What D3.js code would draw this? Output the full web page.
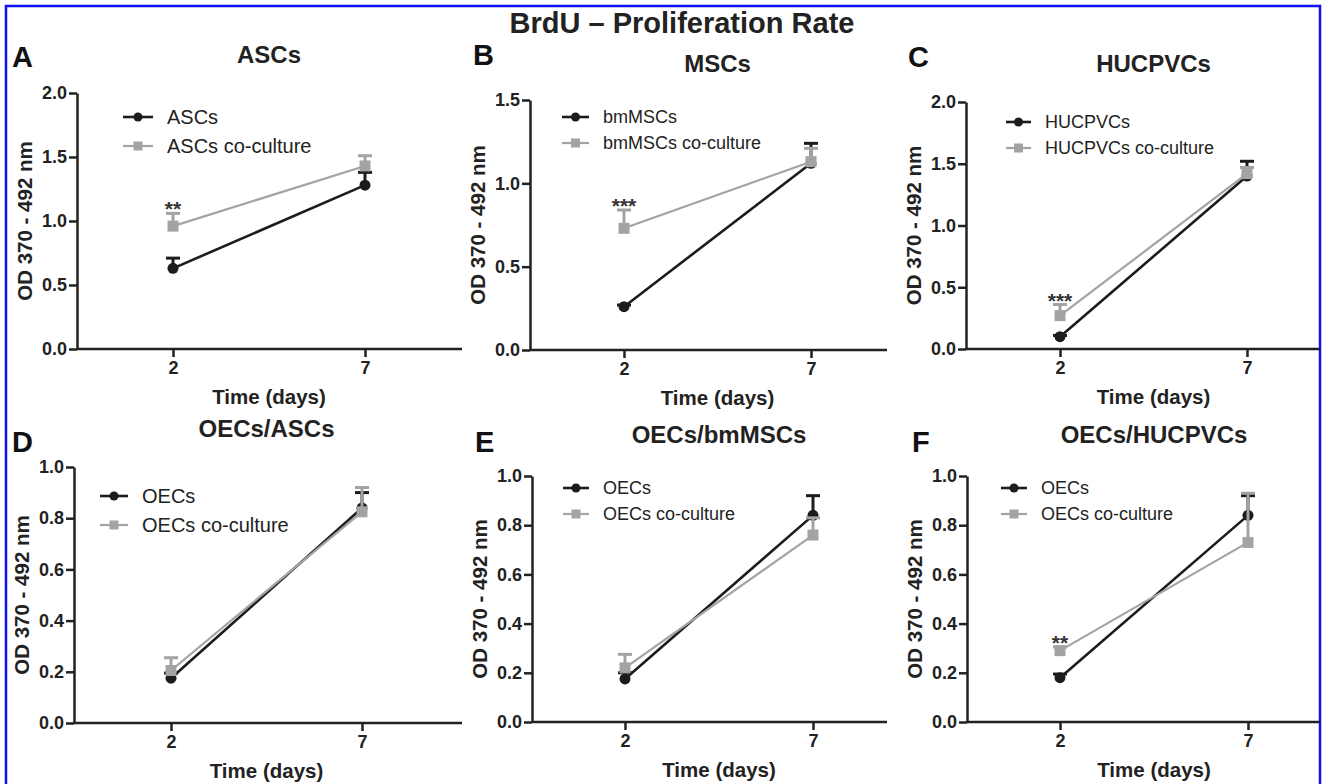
<!DOCTYPE html>
<html>
<head>
<meta charset="utf-8">
<script src="https://cdn.jsdelivr.net/npm/d3@7"></script>
<style>
  body { margin: 0; background: #fff; }
  svg { display: block; font-family: "Liberation Sans", Arial, sans-serif; }
  .tick text { font-weight: bold; font-size: 18px; fill: #222; }
  .domain, .tick line { stroke: #222; stroke-width: 2.5px; }
</style>
</head>
<body>
<svg id="chart" width="1322" height="784"></svg>
<script>
const DAYS = [2, 7];

const TITLE = "BrdU \u2013 Proliferation Rate";
const PANEL_LETTERS = ["A", "B", "C", "D", "E", "F"];
const PANEL_TITLES = ["ASCs", "MSCs", "HUCPVCs", "OECs/ASCs", "OECs/bmMSCs", "OECs/HUCPVCs"];
const SERIES_NAMES = [
  ["ASCs", "ASCs co-culture"],
  ["bmMSCs", "bmMSCs co-culture"],
  ["HUCPVCs", "HUCPVCs co-culture"],
  ["OECs", "OECs co-culture"],
  ["OECs", "OECs co-culture"],
  ["OECs", "OECs co-culture"]
];
const Y_MAX = [2.0, 1.5, 2.0, 1.0, 1.0, 1.0];
const Y_STEP = [0.5, 0.5, 0.5, 0.2, 0.2, 0.2];

// mean values (day 2, day 7) and upper SEM
const SOLO_MEAN = [
  [0.63, 1.28],
  [0.26, 1.12],
  [0.10, 1.40],
  [0.175, 0.84],
  [0.175, 0.84],
  [0.18, 0.84]
];
const SOLO_ERR = [
  [0.08, 0.10],
  [0.01, 0.12],
  [0.01, 0.12],
  [0.02, 0.06],
  [0.025, 0.08],
  [0.015, 0.08]
];
const CO_MEAN = [
  [0.96, 1.43],
  [0.73, 1.13],
  [0.27, 1.42],
  [0.205, 0.825],
  [0.22, 0.76],
  [0.29, 0.73]
];
const CO_ERR = [
  [0.10, 0.08],
  [0.11, 0.08],
  [0.09, 0.05],
  [0.05, 0.095],
  [0.055, 0.07],
  [0.015, 0.20]
];
// significance marks on co-culture day 2
const STARS = ["**", "***", "***", "", "", "**"];

// panel geometry in page pixels
const LAYOUT = [
  { ax: 77,  y0: 349, yTop: 93,  x2: 173,  x7: 365,  end: 462,  letter: [12, 67],  titleY: 63,  leg: [123, 117, 30, 20] },
  { ax: 530, y0: 350, yTop: 100, x2: 624,  x7: 811,  end: 887,  letter: [473, 65], titleY: 72,  leg: [562, 117, 27, 18] },
  { ax: 966, y0: 349, yTop: 102, x2: 1060, x7: 1247, end: 1320, letter: [908, 67], titleY: 72,  leg: [1006, 122, 25, 18] },
  { ax: 74,  y0: 723, yTop: 467, x2: 171,  x7: 362,  end: 462,  letter: [12, 452], titleY: 437, leg: [100, 496, 28, 20] },
  { ax: 532, y0: 722, yTop: 476, x2: 625,  x7: 813,  end: 887,  letter: [475, 452], titleY: 443, leg: [563, 488, 26, 18] },
  { ax: 967, y0: 722, yTop: 476, x2: 1060, x7: 1248, end: 1320, letter: [912, 452], titleY: 443, leg: [1001, 488, 26, 18] }
];

const BLACK = "#1c1c1c";
const GRAY = "#a3a3a3";

const svg = d3.select("#chart");

// blue frame
svg.append("rect")
  .attr("x", 6).attr("y", 6)
  .attr("width", 1314).attr("height", 800)
  .attr("fill", "none")
  .attr("stroke", "#1010f0")
  .attr("stroke-width", 2.5);

svg.append("text")
  .attr("x", 682).attr("y", 33)
  .attr("text-anchor", "middle")
  .attr("font-size", 29).attr("font-weight", "bold")
  .attr("fill", "#222")
  .text(TITLE);

LAYOUT.forEach((L, i) => {
  const g = svg.append("g");
  const x = d3.scaleLinear().domain(DAYS).range([L.x2, L.x7]);
  const y = d3.scaleLinear().domain([0, Y_MAX[i]]).range([L.y0, L.yTop]);
  const midX = (L.x2 + L.x7) / 2;

  const yTicks = d3.range(0, Y_MAX[i] + 1e-9, Y_STEP[i]);
  g.append("g")
    .attr("transform", `translate(${L.ax},0)`)
    .call(d3.axisLeft(y).tickValues(yTicks).tickFormat(d3.format(".1f"))
      .tickSize(8).tickSizeOuter(0).tickPadding(2));

  const xAxisG = g.append("g")
    .attr("transform", `translate(0,${L.y0})`)
    .call(d3.axisBottom(x).tickValues(DAYS).tickFormat(d3.format("d"))
      .tickSize(8).tickPadding(4));
  xAxisG.select(".domain").remove();
  xAxisG.append("line")
    .attr("x1", L.ax).attr("x2", L.end)
    .attr("stroke", "#222").attr("stroke-width", 2.5);

  // labels
  g.append("text")
    .attr("x", L.letter[0]).attr("y", L.letter[1])
    .attr("font-size", 29).attr("font-weight", "bold").attr("fill", "#111")
    .text(PANEL_LETTERS[i]);

  g.append("text")
    .attr("x", midX).attr("y", L.titleY)
    .attr("text-anchor", "middle")
    .attr("font-size", 24).attr("font-weight", "bold").attr("fill", "#222")
    .text(PANEL_TITLES[i]);

  g.append("text")
    .attr("x", midX).attr("y", L.y0 + 55)
    .attr("text-anchor", "middle")
    .attr("font-size", 20.5).attr("font-weight", "bold").attr("fill", "#222")
    .text("Time (days)");

  g.append("text")
    .attr("transform", `translate(${L.ax - 45},${(L.y0 + L.yTop) / 2}) rotate(-90)`)
    .attr("text-anchor", "middle")
    .attr("font-size", 20.5).attr("font-weight", "bold").attr("fill", "#222")
    .text("OD 370 - 492 nm");

  // series: solo (black, circle) then co-culture (gray, square)
  const series = [
    { mean: SOLO_MEAN[i], err: SOLO_ERR[i], color: BLACK, shape: "circle", width: 2.6 },
    { mean: CO_MEAN[i], err: CO_ERR[i], color: GRAY, shape: "square", width: 2.2 }
  ];

  series.forEach((s) => {
    const pts = DAYS.map((d, k) => ({ d, v: s.mean[k], e: s.err[k] }));
    const sg = g.append("g");

    sg.selectAll("line.err")
      .data(pts)
      .join("line")
      .attr("x1", (p) => x(p.d)).attr("x2", (p) => x(p.d))
      .attr("y1", (p) => y(p.v)).attr("y2", (p) => y(p.v + p.e))
      .attr("stroke", s.color).attr("stroke-width", 3);

    sg.selectAll("line.cap")
      .data(pts)
      .join("line")
      .attr("x1", (p) => x(p.d) - 7).attr("x2", (p) => x(p.d) + 7)
      .attr("y1", (p) => y(p.v + p.e)).attr("y2", (p) => y(p.v + p.e))
      .attr("stroke", s.color).attr("stroke-width", 3);

    sg.append("path")
      .datum(pts)
      .attr("fill", "none")
      .attr("stroke", s.color)
      .attr("stroke-width", s.width)
      .attr("d", d3.line().x((p) => x(p.d)).y((p) => y(p.v)));

    if (s.shape === "circle") {
      sg.selectAll("circle")
        .data(pts)
        .join("circle")
        .attr("cx", (p) => x(p.d)).attr("cy", (p) => y(p.v))
        .attr("r", 5.5).attr("fill", s.color);
    } else {
      sg.selectAll("rect")
        .data(pts)
        .join("rect")
        .attr("x", (p) => x(p.d) - 5.5).attr("y", (p) => y(p.v) - 5.5)
        .attr("width", 11).attr("height", 11).attr("fill", s.color);
    }
  });

  if (STARS[i]) {
    g.append("text")
      .attr("x", x(DAYS[0]))
      .attr("y", y(CO_MEAN[i][0] + CO_ERR[i][0]) + 3)
      .attr("text-anchor", "middle")
      .attr("font-size", 21).attr("font-weight", "bold").attr("fill", "#333")
      .text(STARS[i]);
  }

  // legend
  const [lx, ly, lw, fs] = L.leg;
  const rowGap = i === 0 || i === 3 ? 29 : 26;
  series.forEach((s, k) => {
    const ry = ly + k * rowGap;
    g.append("line")
      .attr("x1", lx).attr("x2", lx + lw)
      .attr("y1", ry).attr("y2", ry)
      .attr("stroke", s.color).attr("stroke-width", s.width);
    if (s.shape === "circle") {
      g.append("circle").attr("cx", lx + lw / 2).attr("cy", ry).attr("r", 4.5).attr("fill", s.color);
    } else {
      g.append("rect").attr("x", lx + lw / 2 - 4.5).attr("y", ry - 4.5)
        .attr("width", 9).attr("height", 9).attr("fill", s.color);
    }
    g.append("text")
      .attr("x", lx + lw + 14).attr("y", ry)
      .attr("dy", "0.36em")
      .attr("font-size", fs).attr("fill", "#222")
      .text(SERIES_NAMES[i][k]);
  });
});
</script>
</body>
</html>
